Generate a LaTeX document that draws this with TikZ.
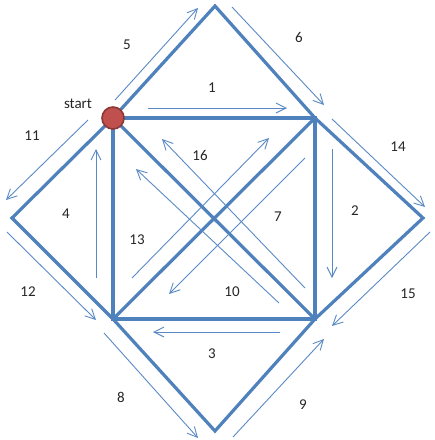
\documentclass[tikz,border=0pt]{standalone}
\usepackage{fontspec}
\setmainfont{Carlito}
\usetikzlibrary{arrows.meta}
\definecolor{blu}{HTML}{4F81BD}
\definecolor{thinblu}{HTML}{5A8AC6}
\definecolor{redf}{HTML}{C0504D}
\definecolor{redd}{HTML}{8C3836}
\begin{document}
\begin{tikzpicture}[x=1pt,y=-1pt,
  edgeline/.style={blu, line width=3.2pt, line join=miter},
  trail/.style={thinblu, line width=0.9pt, -{Straight Barb[length=10pt,width=10pt]}},
  lbl/.style={font=\fontsize{15}{15}\selectfont, text=black!85, inner sep=0pt}]
\useasboundingbox (0,0) rectangle (435,440);
\fill[white] (0,0) rectangle (435,440);
% corners
\coordinate (TL) at (113,118);
\coordinate (TR) at (315,118);
\coordinate (BL) at (113,319);
\coordinate (BR) at (315,319);
\coordinate (T) at (215,6);
\coordinate (L) at (12,218);
\coordinate (R) at (423,218);
\coordinate (B) at (215,431);
% thick edges
\draw[edgeline] (TL) -- (TR) -- (BR) -- (BL) -- cycle;
\draw[edgeline] (TL) -- (BR);
\draw[edgeline] (TR) -- (BL);
\draw[edgeline] (TL) -- (T) -- (TR) -- (R) -- (BR) -- (B) -- (BL) -- (L) -- cycle;
% trail end points
\coordinate (a1s) at (148,108);  \coordinate (a1e) at (287,108);
\coordinate (a2s) at (332,149);  \coordinate (a2e) at (332,278);
\coordinate (a3s) at (280,332);  \coordinate (a3e) at (153,332);
\coordinate (a4s) at (96,278);   \coordinate (a4e) at (96,149);
\coordinate (a5s) at (115,100);  \coordinate (a5e) at (198,8);
\coordinate (a6s) at (232,7);    \coordinate (a6e) at (324,105);
\coordinate (a7s) at (305,158);  \coordinate (a7e) at (169,294);
\coordinate (a8s) at (104,333);  \coordinate (a8e) at (198,438);
\coordinate (a9s) at (233,437);  \coordinate (a9e) at (324,339);
\coordinate (a10s) at (279,303); \coordinate (a10e) at (136,169);
\coordinate (a11s) at (88,120);  \coordinate (a11e) at (6,200);
\coordinate (a12s) at (7,232);   \coordinate (a12e) at (96,320);
\coordinate (a13s) at (132,278); \coordinate (a13e) at (269,138);
\coordinate (a14s) at (332,119); \coordinate (a14e) at (425,207);
\coordinate (a15s) at (430,232); \coordinate (a15e) at (332,326);
\coordinate (a16s) at (305,288); \coordinate (a16e) at (162,139);
\foreach \i in {1,...,16} {\draw[trail] (a\i s) -- (a\i e);}
% start marker
\node[circle, fill=redf, draw=redd, line width=1.6pt, minimum size=22pt, inner sep=0pt] (start) at (TL) {};
% labels
\node[lbl] (tstart) at (78,104) {start};
\node[lbl] (l1) at (212,88) {1};
\node[lbl] (l2) at (355,211) {2};
\node[lbl] (l3) at (212,354) {3};
\node[lbl] (l4) at (66,214) {4};
\node[lbl] (l5) at (127,45) {5};
\node[lbl] (l6) at (299,37) {6};
\node[lbl] (l7) at (278,217) {7};
\node[lbl] (l8) at (121,397) {8};
\node[lbl] (l9) at (303,405) {9};
\node[lbl] (l10) at (232,292) {10};
\node[lbl] (l11) at (32,136) {11};
\node[lbl] (l12) at (28,292) {12};
\node[lbl] (l13) at (137,240) {13};
\node[lbl] (l14) at (398,147) {14};
\node[lbl] (l15) at (408,294) {15};
\node[lbl] (l16) at (200,155) {16};
\end{tikzpicture}
\end{document}
